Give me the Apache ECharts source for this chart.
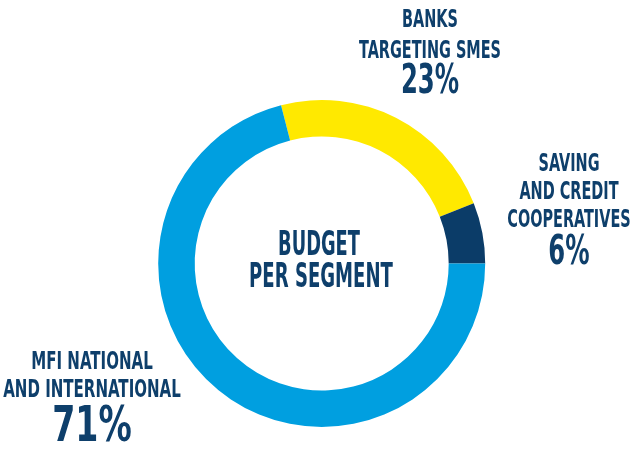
<!DOCTYPE html>
<html><head><meta charset="utf-8">
<script src="https://cdn.jsdelivr.net/npm/echarts@6/dist/echarts.min.js"></script>
<style>html,body{margin:0;padding:0;background:#fff}#c{width:632px;height:455px}</style>
</head><body><div id="c"></div>
<script>
const categories = ['BANKS\nTARGETING SMES', 'SAVING\nAND CREDIT\nCOOPERATIVES', 'MFI NATIONAL\nAND INTERNATIONAL'];
const values = [23, 6, 71];
const colors = ['#FFE900', '#0B3C68', '#009FE0'];
const centerTitle = ['BUDGET', 'PER SEGMENT'];

const TXT = '#0E3F6B';
const FONT = '"Liberation Sans Narrow", "DejaVu Sans Condensed", sans-serif';
const chart = echarts.init(document.getElementById('c'), null, {renderer: 'canvas'});

// label anchor positions (centre x, first line y, line height, font sizes)
const labelPos = [
  {x: 430, y: 21, lh: 30.5, fs: 22, sx: 0.73, pfs: 37, py: 82, psx: 0.73},
  {x: 569, y: 165, lh: 28, fs: 22, sx: 0.73, pfs: 37, py: 253, psx: 0.73},
  {x: 92, y: 362.5, lh: 28.3, fs: 22, sx: 0.76, pfs: 45, py: 427.5, psx: 0.82}
];
const SY = 1.12;

const graphics = [];
function addText(str, x, y, fs, sx) {
  graphics.push({
    type: 'text', x: x, y: y, scaleX: sx, scaleY: SY, silent: true,
    style: {text: str, x: 0, y: 0, fill: TXT, font: 'bold ' + fs + 'px ' + FONT,
            textAlign: 'center', textVerticalAlign: 'middle'}
  });
}
categories.forEach((c, i) => {
  const p = labelPos[i];
  c.split('\n').forEach((line, j) => addText(line, p.x, p.y + j * p.lh, p.fs, p.sx));
  addText(values[i] + '%', p.x, p.py, p.pfs, p.psx);
});
addText(centerTitle[0], 319, 246, 30, 0.66);
addText(centerTitle[1], 321, 278.5, 30, 0.67);

chart.setOption({
  animation: false,
  color: colors,
  series: [{
    type: 'pie',
    center: [321.7, 263.5],
    radius: [127, 163.5],
    startAngle: 104.4,
    clockwise: true,
    label: {show: false},
    labelLine: {show: false},
    itemStyle: {borderWidth: 0},
    emphasis: {disabled: true},
    data: categories.map((c, i) => ({name: c, value: values[i]}))
  }],
  graphic: graphics
});
</script></body></html>
